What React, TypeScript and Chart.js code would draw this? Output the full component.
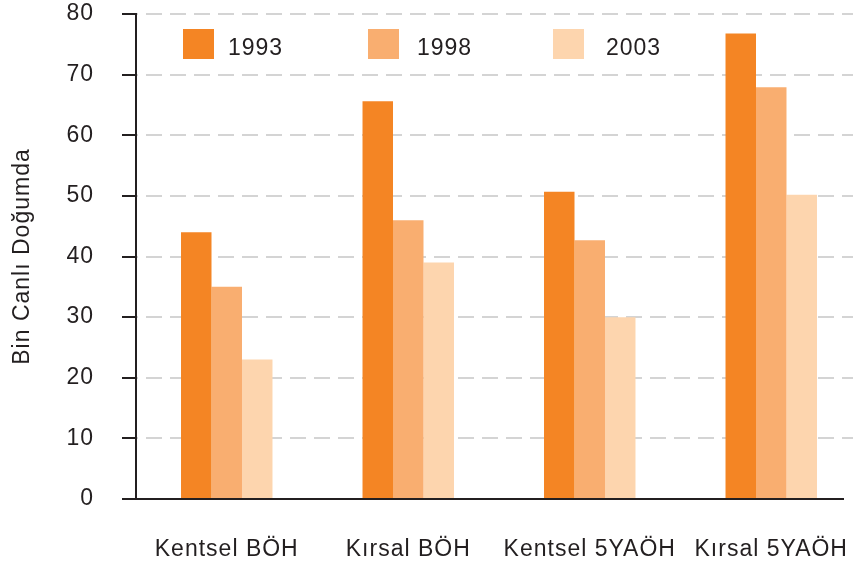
import React, { useEffect, useRef } from "react";
import { Chart, registerables } from "chart.js";

Chart.register(...registerables);

const categories = ["Kentsel BÖH", "Kırsal BÖH", "Kentsel 5YAÖH", "Kırsal 5YAÖH"];
const seriesLabels = ["1993", "1998", "2003"];
const values1993 = [44, 65.6, 50.7, 76.8];
const values1998 = [35, 46, 42.7, 67.9];
const values2003 = [23, 39, 30, 50.2];
const seriesColors = ["#F48524", "#F9AE70", "#FDD5AE"];
const yMin = 0;
const yMax = 80;
const yStep = 10;
const yTitle = "Bin Canlı Doğumda";

const TEXT = "#231F20";
const GRID = "#D4D4D4";
const FONT_FAMILY = '"Liberation Sans", Arial, Helvetica, sans-serif';
const FONT_SIZE = 23;
const SPACING = "1px";

const spacingPlugin = {
  id: "letterSpacing",
  beforeUpdate(chart: any) {
    chart.ctx.letterSpacing = SPACING;
  },
  beforeDraw(chart: any) {
    chart.ctx.letterSpacing = SPACING;
  },
};

const axisLinePlugin = {
  id: "bottomAxisLine",
  afterDatasetsDraw(chart: any) {
    const { ctx, chartArea } = chart;
    const y = chart.scales.y.getPixelForValue(0);
    ctx.save();
    ctx.strokeStyle = TEXT;
    ctx.lineWidth = 2;
    ctx.setLineDash([]);
    ctx.beginPath();
    ctx.moveTo(chartArea.left - 1, y);
    ctx.lineTo(chartArea.right - 18, y);
    ctx.stroke();
    ctx.restore();
  },
};

const legendPlugin = {
  id: "insideLegend",
  afterDraw(chart: any) {
    const { ctx, chartArea } = chart;
    ctx.save();
    ctx.font = `${FONT_SIZE}px ${FONT_FAMILY}`;
    ctx.textBaseline = "middle";
    ctx.textAlign = "left";
    chart.data.datasets.forEach((ds: any, i: number) => {
      const bx = chartArea.left + 47 + i * 185;
      const by = chartArea.top + 15;
      ctx.fillStyle = ds.backgroundColor;
      ctx.fillRect(bx, by, 31, 30);
      ctx.fillStyle = TEXT;
      ctx.fillText(ds.label, chartArea.left + 92 + i * 189, by + 19.5);
    });
    ctx.restore();
  },
};

export default function App() {
  const canvasRef = useRef<HTMLCanvasElement | null>(null);

  useEffect(() => {
    if (!canvasRef.current) return;
    const seriesValues = [values1993, values1998, values2003];
    const font = { family: FONT_FAMILY, size: FONT_SIZE };
    const chart = new Chart(canvasRef.current, {
      type: "bar",
      data: {
        labels: categories,
        datasets: seriesLabels.map((label, i) => ({
          label,
          data: seriesValues[i],
          backgroundColor: seriesColors[i],
          borderWidth: 0,
          barPercentage: 1,
          categoryPercentage: 0.504,
        })),
      },
      options: {
        animation: false,
        responsive: false,
        maintainAspectRatio: false,
        devicePixelRatio: 1,
        layout: { padding: { top: 14, right: 0, bottom: 0, left: 0 } },
        plugins: {
          legend: { display: false },
          tooltip: { enabled: false },
        },
        scales: {
          x: {
            grid: { display: false, drawTicks: false },
            border: { display: false },
            ticks: {
              color: TEXT,
              font,
              padding: 37,
              maxRotation: 0,
              autoSkip: false,
            },
            afterFit: (s: any) => {
              s.height = 64;
              s.paddingLeft = 0;
              s.paddingRight = 0;
            },
          },
          y: {
            min: yMin,
            max: yMax,
            ticks: { stepSize: yStep, color: TEXT, font, padding: 28 },
            grid: {
              color: (ctx: any) => (ctx.tick && ctx.tick.value === 0 ? "rgba(0,0,0,0)" : GRID),
              lineWidth: 2,
              tickLength: 14,
              tickColor: TEXT,
              tickWidth: 2,
              tickBorderDash: [],
            },
            border: { display: true, color: TEXT, width: 2, dash: [16, 8], dashOffset: 15 },
            title: {
              display: true,
              text: yTitle,
              color: TEXT,
              font,
              padding: { top: 9, bottom: 0 },
            },
            afterFit: (s: any) => {
              s.width = 136;
              s.paddingTop = 0;
              s.paddingBottom = 0;
            },
          },
        },
      } as any,
      plugins: [spacingPlugin, axisLinePlugin, legendPlugin],
    });
    return () => chart.destroy();
  }, []);

  return (
    <div
      style={{
        position: "absolute",
        left: 0,
        top: 0,
        width: 853,
        height: 563,
        overflow: "hidden",
        background: "#ffffff",
      }}
    >
      <canvas ref={canvasRef} width={862} height={563} style={{ display: "block" }} />
    </div>
  );
}
